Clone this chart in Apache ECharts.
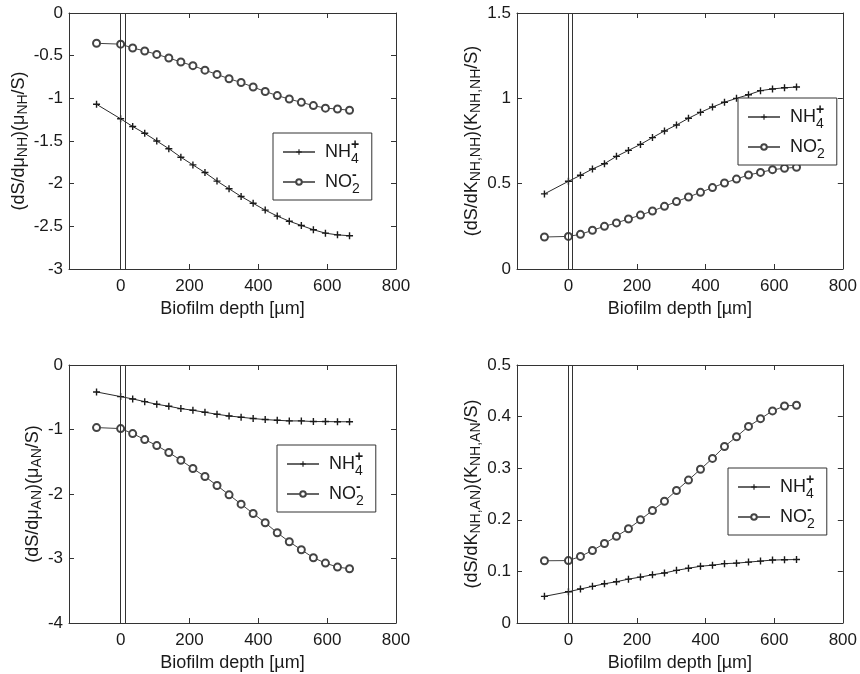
<!DOCTYPE html>
<html>
<head>
<meta charset="utf-8">
<script src="https://cdn.jsdelivr.net/npm/echarts@6/dist/echarts.min.js"></script>
<style>html,body{margin:0;padding:0;background:#fff}#c{width:860px;height:674px}</style>
</head>
<body>
<div id="c"></div>
<script>
// Biofilm depth [µm] of each sample point
var depth = [-70, 0, 35, 70, 105, 140, 175, 210, 245, 280, 315, 350, 385, 420, 455, 490, 525, 560, 595, 630, 665];
// Boundary lines (double vertical line near the surface)
var boundaryLines = [0, 12];
// Panel 1: (dS/dmu_NH)(mu_NH/S)
var muNH_NH4 = [-1.07, -1.24, -1.33, -1.41, -1.50, -1.59, -1.69, -1.78, -1.87, -1.97, -2.06, -2.15, -2.23, -2.31, -2.38, -2.44, -2.49, -2.54, -2.58, -2.60, -2.61];
var muNH_NO2 = [-0.355, -0.365, -0.41, -0.445, -0.485, -0.527, -0.574, -0.617, -0.67, -0.72, -0.77, -0.815, -0.867, -0.92, -0.968, -1.008, -1.047, -1.085, -1.115, -1.125, -1.14];
// Panel 2: (dS/dK_NH,NH)(K_NH,NH/S)
var KNH_NH4 = [0.44, 0.514, 0.549, 0.586, 0.617, 0.66, 0.695, 0.73, 0.77, 0.809, 0.844, 0.883, 0.918, 0.949, 0.977, 1.0, 1.021, 1.045, 1.055, 1.062, 1.066];
var KNH_NO2 = [0.1875, 0.191, 0.203, 0.227, 0.25, 0.27, 0.293, 0.316, 0.34, 0.367, 0.395, 0.422, 0.449, 0.477, 0.504, 0.527, 0.551, 0.566, 0.582, 0.59, 0.596];
// Panel 3: (dS/dmu_AN)(mu_AN/S)
var muAN_NH4 = [-0.418, -0.49, -0.526, -0.568, -0.609, -0.64, -0.676, -0.702, -0.733, -0.764, -0.79, -0.81, -0.83, -0.846, -0.857, -0.867, -0.867, -0.877, -0.877, -0.88, -0.88];
var muAN_NO2 = [-0.97, -0.986, -1.063, -1.156, -1.249, -1.357, -1.476, -1.605, -1.729, -1.868, -2.013, -2.157, -2.302, -2.446, -2.601, -2.741, -2.865, -2.988, -3.071, -3.133, -3.159];
// Panel 4: (dS/dK_NH,AN)(K_NH,AN/S)
var KAN_NH4 = [0.0516, 0.0606, 0.0658, 0.071, 0.076, 0.08, 0.085, 0.089, 0.0935, 0.097, 0.102, 0.106, 0.11, 0.112, 0.115, 0.116, 0.118, 0.12, 0.122, 0.1226, 0.123];
var KAN_NO2 = [0.1206, 0.121, 0.129, 0.1406, 0.154, 0.168, 0.1826, 0.2, 0.218, 0.236, 0.2568, 0.277, 0.298, 0.319, 0.342, 0.361, 0.381, 0.396, 0.411, 0.4206, 0.422];
// Axis tick labels
var xTicks = [0, 200, 400, 600, 800];
var xName = 'Biofilm depth [µm]';
var seriesNames = ['NH4', 'NO2'];

var panels = [
  {nh4: muNH_NH4, no2: muNH_NO2, ymin: -3, ymax: 0, yint: 0.5, yname: '(dS/dμ{sub|NH})(μ{sub|NH}/S)', gap: 36,
   grid: {left: 69, top: 13, width: 327, height: 256}, legend: {left: 273, top: 133}},
  {nh4: KNH_NH4, no2: KNH_NO2, ymin: 0, ymax: 1.5, yint: 0.5, yname: '(dS/dK{sub|NH,NH})(K{sub|NH,NH}/S)', gap: 31,
   grid: {left: 517, top: 13, width: 326, height: 256}, legend: {left: 738, top: 98}},
  {nh4: muAN_NH4, no2: muAN_NO2, ymin: -4, ymax: 0, yint: 1, yname: '(dS/dμ{sub|AN})(μ{sub|AN}/S)', gap: 24,
   grid: {left: 69, top: 365, width: 327, height: 258}, legend: {left: 277, top: 445}},
  {nh4: KAN_NH4, no2: KAN_NO2, ymin: 0, ymax: 0.5, yint: 0.1, yname: '(dS/dK{sub|NH,AN})(K{sub|NH,AN}/S)', gap: 31,
   grid: {left: 517, top: 365, width: 326, height: 258}, legend: {left: 728, top: 468}}
];

var FONT = 'Liberation Sans, Arial, sans-serif';
var AX = '#333';
var TXT = '#1a1a1a';
var plusPath = 'path://M4,0H6V4H10V6H6V10H4V6H0V4H4Z';

var option = {animation: false, backgroundColor: '#fff', grid: [], xAxis: [], yAxis: [], series: [], legend: []};

panels.forEach(function (p, i) {
  option.grid.push(Object.assign({containLabel: false, show: false}, p.grid));
  var xi = option.xAxis.length, yi = option.yAxis.length;
  option.xAxis.push({
    type: 'value', gridIndex: i, min: -150, max: 800, position: 'bottom',
    name: xName, nameLocation: 'middle', nameGap: 31,
    nameTextStyle: {fontFamily: FONT, fontSize: 18, color: TXT},
    axisLine: {show: true, onZero: false, lineStyle: {color: AX, width: 1}},
    axisTick: {show: true, inside: true, length: 5, customValues: xTicks, lineStyle: {color: AX}},
    axisLabel: {show: true, customValues: xTicks, margin: 9, fontFamily: FONT, fontSize: 17, color: TXT},
    splitLine: {show: false}
  });
  option.xAxis.push({
    type: 'value', gridIndex: i, min: -150, max: 800, position: 'top',
    axisLine: {show: true, onZero: false, lineStyle: {color: AX, width: 1}},
    axisTick: {show: true, inside: true, length: 5, customValues: xTicks, lineStyle: {color: AX}},
    axisLabel: {show: false}, splitLine: {show: false}
  });
  option.yAxis.push({
    type: 'value', gridIndex: i, min: p.ymin, max: p.ymax, interval: p.yint, position: 'left',
    name: p.yname, nameLocation: 'middle', nameRotate: 90, nameGap: p.gap,
    nameTextStyle: {fontFamily: FONT, fontSize: 18, color: TXT, lineHeight: 22,
      rich: {sub: {fontFamily: FONT, fontSize: 14, color: TXT, verticalAlign: 'bottom', lineHeight: 14}}},
    axisLine: {show: true, onZero: false, lineStyle: {color: AX, width: 1}},
    axisTick: {show: true, inside: true, length: 5, lineStyle: {color: AX}},
    axisLabel: {show: true, margin: 6, fontFamily: FONT, fontSize: 17, color: TXT},
    splitLine: {show: false}
  });
  option.yAxis.push({
    type: 'value', gridIndex: i, min: p.ymin, max: p.ymax, interval: p.yint, position: 'right',
    axisLine: {show: true, onZero: false, lineStyle: {color: AX, width: 1}},
    axisTick: {show: true, inside: true, length: 5, lineStyle: {color: AX}},
    axisLabel: {show: false}, splitLine: {show: false}
  });

  option.series.push({
    name: 'NH4', type: 'line', xAxisIndex: xi, yAxisIndex: yi,
    data: depth.map(function (d, k) { return [d, p.nh4[k]]; }),
    symbol: plusPath, symbolSize: 7, showAllSymbol: true,
    lineStyle: {color: '#2a2a2a', width: 1},
    itemStyle: {color: '#1a1a1a'},
    markLine: {
      silent: true, symbol: ['none', 'none'], label: {show: false},
      lineStyle: {type: 'solid', color: '#333', width: 1},
      data: boundaryLines.map(function (b) { return {xAxis: b}; })
    }
  });
  option.series.push({
    name: 'NO2', type: 'line', xAxisIndex: xi, yAxisIndex: yi,
    data: depth.map(function (d, k) { return [d, p.no2[k]]; }),
    symbol: 'emptyCircle', symbolSize: 7, showAllSymbol: true,
    lineStyle: {color: '#444', width: 1},
    itemStyle: {color: '#444', borderWidth: 1}
  });

  option.legend.push({
    left: p.legend.left, top: p.legend.top, orient: 'vertical',
    data: seriesNames, selectedMode: false,
    backgroundColor: '#fff', borderColor: '#333', borderWidth: 1, borderRadius: 0,
    padding: [5, 12, 4, 9], itemGap: 2, itemWidth: 32, itemHeight: 7,
    lineStyle: {color: '#666'},
    formatter: function (name) {
      return name === 'NH4' ? '{b|NH}{sb|4}{sp|+}' : '{b|NO}{sb|2}{sp|-}';
    },
    textStyle: {
      fontFamily: FONT, fontSize: 18, color: TXT,
      rich: {
        b: {fontFamily: FONT, fontSize: 18, color: TXT, lineHeight: 28, padding: [0, 0, 0, 5]},
        sb: {fontFamily: FONT, fontSize: 14, color: TXT, verticalAlign: 'bottom', lineHeight: 14, width: 0},
        sp: {fontFamily: FONT, fontSize: 14, color: TXT, verticalAlign: 'top', lineHeight: 14, fontWeight: 'bold'}
      }
    }
  });
});

var chart = echarts.init(document.getElementById('c'), null, {renderer: 'canvas'});
chart.setOption(option);
</script>
</body>
</html>
